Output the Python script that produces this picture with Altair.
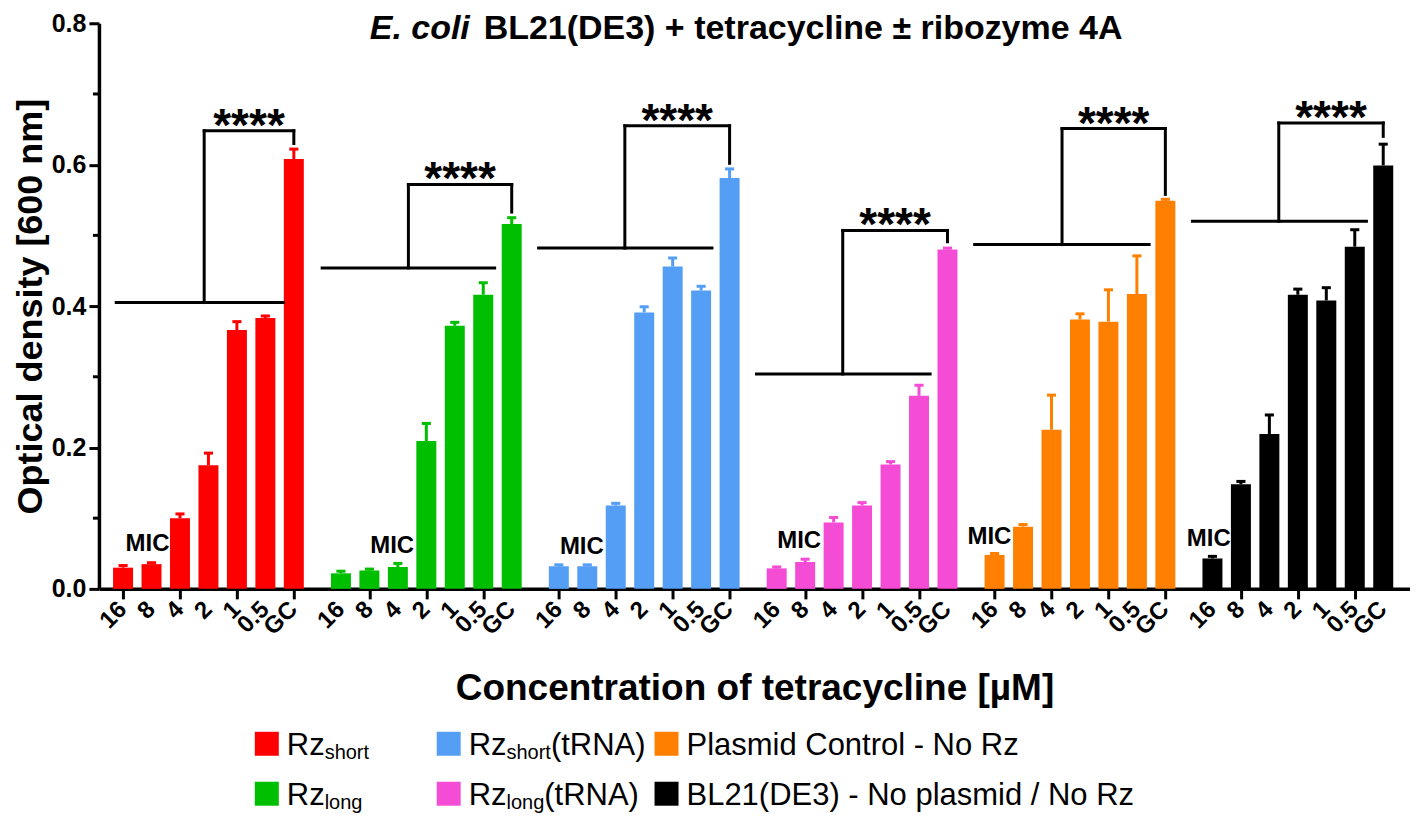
import altair as alt
import pandas as pd

# ---------------- data ----------------
concentrations = ["16", "8", "4", "2", "1", "0.5", "GC"]
series_names = ["Rz short", "Rz long", "Rz short (tRNA)", "Rz long (tRNA)",
                "Plasmid Control - No Rz", "BL21(DE3) - No plasmid / No Rz"]
series_colors = ["#FF0000", "#00BF00", "#559EF5", "#F54CD6", "#FF8000", "#000000"]

od_rz_short = [0.030, 0.035, 0.100, 0.175, 0.366, 0.383, 0.608]
sd_rz_short = [0.003, 0.002, 0.006, 0.017, 0.012, 0.003, 0.014]
od_rz_long = [0.022, 0.026, 0.031, 0.209, 0.372, 0.416, 0.516]
sd_rz_long = [0.003, 0.002, 0.005, 0.025, 0.005, 0.017, 0.009]
od_rz_short_trna = [0.032, 0.032, 0.118, 0.391, 0.456, 0.422, 0.581]
sd_rz_short_trna = [0.002, 0.002, 0.003, 0.008, 0.012, 0.006, 0.013]
od_rz_long_trna = [0.029, 0.038, 0.094, 0.118, 0.176, 0.273, 0.480]
sd_rz_long_trna = [0.002, 0.004, 0.007, 0.004, 0.004, 0.015, 0.002]
od_plasmid = [0.048, 0.088, 0.225, 0.381, 0.378, 0.417, 0.549]
sd_plasmid = [0.002, 0.003, 0.049, 0.008, 0.045, 0.054, 0.002]
od_bl21 = [0.043, 0.148, 0.219, 0.416, 0.408, 0.484, 0.599]
sd_bl21 = [0.003, 0.004, 0.027, 0.008, 0.018, 0.024, 0.030]

od_all = [od_rz_short, od_rz_long, od_rz_short_trna, od_rz_long_trna, od_plasmid, od_bl21]
sd_all = [sd_rz_short, sd_rz_long, sd_rz_short_trna, sd_rz_long_trna, sd_plasmid, sd_bl21]

# significance brackets (per series): low bar span, join point, heights
bracket_left = [-0.24, -0.66, -0.71, -0.71, -0.70, -0.70]
bracket_right = [5.63, 5.40, 5.38, 5.39, 5.43, 5.41]
bracket_mid = [2.85, 2.37, 2.32, 2.32, 2.37, 2.33]
bracket_low = [0.405, 0.454, 0.482, 0.304, 0.487, 0.520]
bracket_top = [0.648, 0.572, 0.655, 0.507, 0.651, 0.659]
bracket_end = [0.630, 0.533, 0.602, 0.491, 0.558, 0.640]
bracket_label = "****"

# MIC annotations
mic_pos = [0.86, 1.80, 0.81, 0.79, -0.18, -0.13]
mic_y = [0.063, 0.060, 0.059, 0.068, 0.074, 0.071]

legend_parts = [
    [("Rz", False), ("short", True)],
    [("Rz", False), ("long", True)],
    [("Rz", False), ("short", True), ("(tRNA)", False)],
    [("Rz", False), ("long", True), ("(tRNA)", False)],
    [("Plasmid Control - No Rz", False)],
    [("BL21(DE3) - No plasmid / No Rz", False)],
]

title_italic = "E. coli"
title_rest = "BL21(DE3) + tetracycline \u00b1 ribozyme 4A"
x_title = "Concentration of tetracycline [\u00b5M]"
y_title = "Optical density [600 nm]"

# ---------------- layout ----------------
W, H = 1312, 566
PAD_TOP, PAD_LEFT = 15, 91
OX, OY = 8 + PAD_LEFT, 8 + PAD_TOP   # page position of plot origin
GROUP_STEP = 7.655
FONT = "Liberation Sans"

rows = []
for g, (ods, sds) in enumerate(zip(od_all, sd_all)):
    for i, c in enumerate(concentrations):
        pos = g * GROUP_STEP + i
        rows.append(dict(series=series_names[g], conc=c, pos=pos, od=ods[i],
                         top=ods[i] + sds[i], capl=pos - 0.16, capr=pos + 0.16))
bars = pd.DataFrame(rows)
tick_values = list(bars["pos"])

br = pd.DataFrame(dict(
    series=series_names,
    xl=[g * GROUP_STEP + v for g, v in enumerate(bracket_left)],
    xr=[g * GROUP_STEP + v for g, v in enumerate(bracket_right)],
    xm=[g * GROUP_STEP + v for g, v in enumerate(bracket_mid)],
    xgc=[g * GROUP_STEP + 6 for g in range(6)],
    ylow=bracket_low, ytop=bracket_top, yend=bracket_end,
    label=[bracket_label] * 6,
))
br["xs"] = (br["xm"] + br["xgc"]) / 2

mic = pd.DataFrame(dict(x=[g * GROUP_STEP + v for g, v in enumerate(mic_pos)],
                        y=mic_y, t=["MIC"] * 6))

xscale = alt.Scale(domain=[-0.672, 45.04], nice=False, zero=False)
yscale = alt.Scale(domain=[0, 0.8], nice=False)
color = alt.Color("series:N", scale=alt.Scale(domain=series_names, range=series_colors), legend=None)

X = alt.X("pos:Q", scale=xscale, axis=alt.Axis(
    values=tick_values, labels=False, grid=False,
    title=x_title, titleFont=FONT, titleFontSize=37, titleFontWeight="bold",
    titleY=111, titleBaseline="alphabetic",
    tickSize=10, tickWidth=3, tickColor="black",
    domainWidth=3.5, domainColor="black", titleColor="black"))
Y = alt.Y("od:Q", scale=yscale, axis=alt.Axis(
    values=[0, 0.2, 0.4, 0.6, 0.8], format=".1f", grid=False,
    title=y_title, titleFont=FONT, titleFontSize=36, titleFontWeight="bold",
    titleX=-57, titleBaseline="alphabetic", titleAngle=-90,
    labelFont=FONT, labelFontSize=25, labelFontWeight="bold", labelPadding=3,
    tickSize=10, tickWidth=3, tickColor="black", domainWidth=3.5,
    domainColor="black", labelColor="black", titleColor="black"))

base = alt.Chart(bars)
bar_layer = base.mark_bar(size=20).encode(x=X, y=Y, color=color)
err_layer = base.mark_rule(strokeWidth=3).encode(x="pos:Q", y="od:Q", y2="top:Q", color=color)
cap_layer = base.mark_rule(strokeWidth=3).encode(x="capl:Q", x2="capr:Q", y="top:Q", color=color)

# rotated concentration labels under every tick
tick_labels = base.mark_text(font=FONT, fontSize=24, fontWeight="bold", angle=315,
                             align="right", baseline="middle", color="black").encode(
    x=alt.X("pos:Q", scale=xscale), y=alt.value(H + 17), text="conc:N")

minor = alt.Chart(pd.DataFrame(dict(v=[0.1, 0.3, 0.5, 0.7]))).mark_rule(
    strokeWidth=3, color="black").encode(x=alt.value(-6), x2=alt.value(0),
                                          y=alt.Y("v:Q", scale=yscale))

bc = alt.Chart(br)
b1 = bc.mark_rule(strokeWidth=3, color="black", strokeCap="square").encode(
    x=alt.X("xl:Q", scale=xscale), x2="xr:Q", y=alt.Y("ylow:Q", scale=yscale))
b2 = bc.mark_rule(strokeWidth=3, color="black", strokeCap="square").encode(
    x=alt.X("xm:Q", scale=xscale), y=alt.Y("ylow:Q", scale=yscale), y2="ytop:Q")
b3 = bc.mark_rule(strokeWidth=3, color="black", strokeCap="square").encode(
    x=alt.X("xm:Q", scale=xscale), x2="xgc:Q", y=alt.Y("ytop:Q", scale=yscale))
b4 = bc.mark_rule(strokeWidth=3, color="black", strokeCap="square").encode(
    x=alt.X("xgc:Q", scale=xscale), y=alt.Y("yend:Q", scale=yscale), y2="ytop:Q")
stars = bc.mark_text(font=FONT, fontSize=46, fontWeight="bold", baseline="alphabetic",
                     dy=10, color="black").encode(
    x=alt.X("xs:Q", scale=xscale), y=alt.Y("ytop:Q", scale=yscale), text="label:N")

mic_layer = alt.Chart(mic).mark_text(font=FONT, fontSize=24, fontWeight="bold",
                                     baseline="middle", color="black").encode(
    x=alt.X("x:Q", scale=xscale), y=alt.Y("y:Q", scale=yscale), text="t:N")

# title inside the plot area (page baseline y = 39)
t1 = alt.Chart(pd.DataFrame(dict(t=[title_italic]))).mark_text(
    font=FONT, fontSize=34, fontWeight="bold", fontStyle="italic", align="left",
    baseline="alphabetic", color="black").encode(
    x=alt.value(370 - OX), y=alt.value(39 - OY), text="t:N")
t2 = alt.Chart(pd.DataFrame(dict(t=[title_rest]))).mark_text(
    font=FONT, fontSize=34, fontWeight="bold", align="left",
    baseline="alphabetic", color="black").encode(
    x=alt.value(484 - OX), y=alt.value(39 - OY), text="t:N")

# legend (manual, to allow subscripts)
char_w = {'R': .722, 'z': .5, 's': .5, 'h': .556, 'o': .556, 'r': .333, 't': .278,
          'l': .222, 'n': .556, 'g': .556}
LF, SF = 31, 20
col_x = [255 - OX, 437 - OX, 655 - OX]   # square left edges
row_base = [755 - OY, 805 - OY]          # text baselines
sq_rows, txt_rows = [], []
for i, parts in enumerate(legend_parts):
    c, r = i // 2, i % 2
    sq_rows.append(dict(x=col_x[c] + 12, y=row_base[r] - 11, col=series_colors[i]))
    xx = col_x[c] + 32
    for text, sub in parts:
        fs = SF if sub else LF
        txt_rows.append(dict(x=xx, y=row_base[r] + (4 if sub else 0), t=text, fs=fs))
        xx += sum(char_w.get(ch, .556) for ch in text) * fs
sq = alt.Chart(pd.DataFrame(sq_rows)).mark_square(size=576, opacity=1, filled=True).encode(
    x=alt.X("x:Q", scale=None), y=alt.Y("y:Q", scale=None), color=alt.Color("col:N", scale=None))
lt = alt.Chart(pd.DataFrame(txt_rows)).mark_text(font=FONT, align="left", baseline="alphabetic",
                                                 color="black").encode(
    x=alt.X("x:Q", scale=None), y=alt.Y("y:Q", scale=None), text="t:N",
    size=alt.Size("fs:Q", scale=None))

chart = alt.layer(bar_layer, err_layer, cap_layer, tick_labels, minor, b1, b2, b3, b4, stars,
                  mic_layer, t1, t2, sq, lt).properties(
    width=W, height=H, autosize=alt.AutoSizeParams(type="none"),
    padding={"left": PAD_LEFT, "top": PAD_TOP, "right": 0, "bottom": 225}
).configure_view(strokeWidth=0)

chart.save("out.html", embed_options={"renderer": "svg", "actions": False})
